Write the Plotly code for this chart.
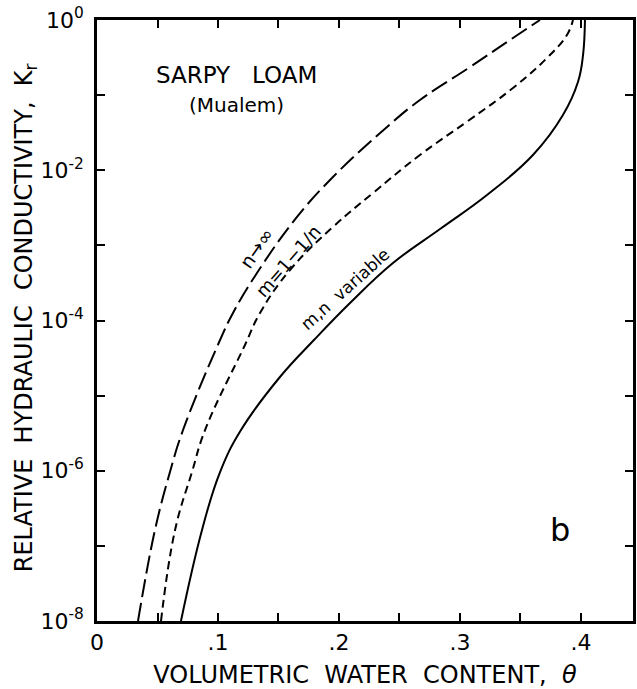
import plotly.graph_objects as go

# --- data (theta, log10 Kr) ---
theta_ninf = [0.0339, 0.0479, 0.0603, 0.0711, 0.1017, 0.1124, 0.1322, 0.1653, 0.1950, 0.2397,
              0.2669, 0.3083, 0.3413, 0.3661]
logk_ninf = [-8.0, -6.789, -6.017, -5.458, -4.260, -3.900, -3.368, -2.622, -2.090, -1.424,
             -1.065, -0.626, -0.266, 0.0]

theta_m1n = [0.0529, 0.0645, 0.0785, 0.0893, 0.1223, 0.1347, 0.1595, 0.1950, 0.2281, 0.2669,
             0.3066, 0.3438, 0.3719, 0.3884, 0.3934]
logk_m1n = [-8.0, -6.789, -6.017, -5.458, -4.326, -3.900, -3.328, -2.755, -2.303, -1.797,
            -1.344, -0.905, -0.506, -0.200, 0.0]

theta_mnv = [0.0694, 0.0868, 0.1017, 0.1190, 0.1512, 0.1793, 0.2091, 0.2446, 0.2835, 0.3223,
             0.3603, 0.3851, 0.3975, 0.4017, 0.4033]
logk_mnv = [-8.0, -6.789, -6.017, -5.458, -4.752, -4.260, -3.767, -3.235, -2.782, -2.329,
            -1.797, -1.265, -0.825, -0.466, 0.0]

x_tick_vals = [0, 0.05, 0.1, 0.15, 0.2, 0.25, 0.3, 0.35, 0.4]
x_tick_text = ["0", "", ".1", "", ".2", "", ".3", "", ".4"]
y_exps = [0, -1, -2, -3, -4, -5, -6, -7, -8]
y_tick_text = ["10<sup>0</sup>", "", "10<sup>-2</sup>", "", "10<sup>-4</sup>", "",
               "10<sup>-6</sup>", "", "10<sup>-8</sup>"]

FONT = "DejaVu Sans"

fig = go.Figure()
series = [
    (theta_ninf, logk_ninf, "18px,6px"),
    (theta_m1n, logk_m1n, "8px,5px"),
    (theta_mnv, logk_mnv, "solid"),
]
for th, lk, dash in series:
    fig.add_trace(go.Scatter(
        x=th, y=[10 ** v for v in lk], mode="lines",
        line=dict(color="black", width=2, dash=dash, shape="spline", smoothing=1.2),
        showlegend=False, hoverinfo="skip",
    ))

annos = [
    dict(x=0.115, y=-0.73, text="SARPY\u00a0\u00a0\u00a0LOAM", size=23, angle=0),
    dict(x=0.115, y=-1.13, text="(Mualem)", size=20, angle=0),
    dict(x=0.1320, y=-3.04, text="n→∞", size=19, angle=-55),
    dict(x=0.1575, y=-3.21, text="m=1−1/n", size=18, angle=-49),
    dict(x=0.205, y=-3.58, text="m,n\u00a0 variable", size=17, angle=-42),
    dict(x=0.383, y=-6.79, text="b", size=32, angle=0),
]
for a in annos:
    fig.add_annotation(x=a["x"], y=a["y"], xref="x", yref="y", text=a["text"],
                       showarrow=False, textangle=a["angle"],
                       font=dict(family=FONT, size=a["size"], color="black"))

# y-axis title placed as a rotated annotation (matches reference position)
fig.add_annotation(
    x=-0.134, y=0.504, xref="paper", yref="paper",
    text="RELATIVE\u00a0 HYDRAULIC\u00a0 CONDUCTIVITY,\u00a0 K<sub>r</sub>",
    showarrow=False, textangle=-90, xanchor="center", yanchor="middle",
    font=dict(family=FONT, size=24, color="black"),
)

fig.update_layout(
    width=637, height=689,
    margin=dict(l=97, r=4, t=20, b=68),
    paper_bgcolor="white", plot_bgcolor="white",
    font=dict(family=FONT, color="black"),
)
fig.update_xaxes(
    range=[0, 0.443], showgrid=False, zeroline=False, automargin=False,
    showline=True, linecolor="black", linewidth=2.5, mirror="ticks",
    ticks="inside", ticklen=8, tickwidth=2, tickcolor="black",
    tickvals=x_tick_vals, ticktext=x_tick_text,
    tickfont=dict(family=FONT, size=22),
    title=dict(text="VOLUMETRIC\u00a0 WATER\u00a0 CONTENT,\u00a0 <i>θ</i>",
               font=dict(family=FONT, size=24)),
)
fig.update_yaxes(
    type="log", range=[-8, 0], showgrid=False, zeroline=False, automargin=False,
    showline=True, linecolor="black", linewidth=2.5, mirror="ticks",
    ticks="inside", ticklen=8, tickwidth=2, tickcolor="black",
    tickvals=[10 ** e for e in y_exps], ticktext=y_tick_text,
    tickfont=dict(family=FONT, size=22), ticklabelstandoff=6,
    ticklabeloverflow="allow",
)

fig.write_html("out.html", config={"displayModeBar": False},
               post_script="document.body.style.margin='0';")
